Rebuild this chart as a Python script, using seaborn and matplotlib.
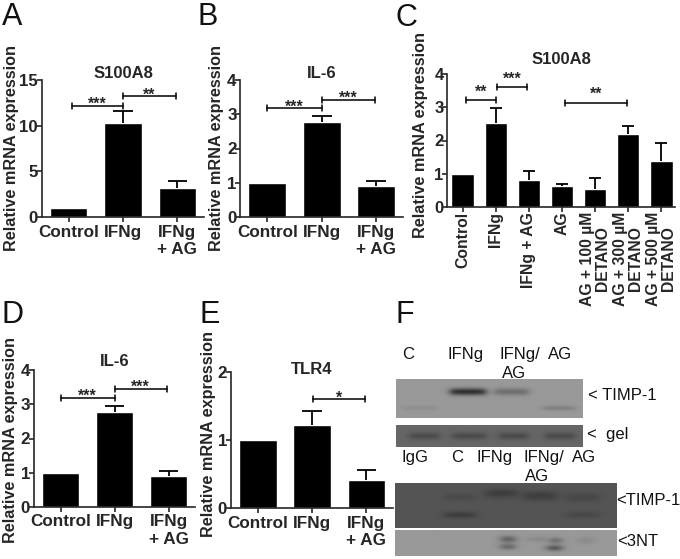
import numpy as np
import pandas as pd
import seaborn as sns
import matplotlib.pyplot as plt

W, H = 680, 559

# values
cats3 = ['Control', 'IFNg', 'IFNg\n+ AG']
a_vals = [1.0, 10.25, 3.15]
a_err = [0, 1.4, 0.75]
b_vals = [1.0, 2.77, 0.9]
b_err = [0, 0.19, 0.14]
c_cats = ['Control', 'IFNg', 'IFNg + AG', 'AG', 'AG + 100 µM\nDETANO', 'AG + 300 µM\nDETANO', 'AG + 500 µM\nDETANO']
c_vals = [1.0, 2.53, 0.8, 0.62, 0.53, 2.2, 1.37]
c_err = [0, 0.45, 0.29, 0.06, 0.35, 0.25, 0.56]
d_vals = [1.0, 2.77, 0.9]
d_err = [0, 0.19, 0.14]
e_vals = [1.0, 1.22, 0.42]
e_err = [0, 0.21, 0.14]

# significance brackets: x from, x to, height, stars
a_br = [(0.07, 1.0, 12.2, '***'), (1.0, 1.97, 13.2, '**')]
b_br = [(0.0, 1.0, 3.17, '***'), (1.0, 1.97, 3.43, '***')]
c_br = [(0.09, 1.0, 3.22, '**'), (1.03, 1.95, 3.6, '***'), (3.1, 4.97, 3.14, '**')]
d_br = [(0.0, 1.0, 3.2, '***'), (1.0, 1.97, 3.46, '***')]
e_br = [(1.01, 1.97, 1.6, '*')]

sns.set_theme(style='ticks')
plt.rcParams['font.family'] = ['Liberation Sans', 'DejaVu Sans']
plt.rcParams['font.weight'] = 'bold'
plt.rcParams['axes.linewidth'] = 1.2


def px_axes(left, right, top, bottom):
    return fig.add_axes([left / W, 1 - bottom / H, (right - left) / W, (bottom - top) / H])


def panel(box, cats, vals, err, brackets, ymax, yticks, title, title_xy, ylab_xy, xlim, star_gap, tick_size=12.2):
    ax = px_axes(*box)
    df = pd.DataFrame({'group': cats, 'value': vals})
    sns.barplot(data=df, x='group', y='value', color='black', saturation=1, width=0.69, errorbar=None, ax=ax)
    # upper error bars only, no cap on the bar itself
    for i, (v, e) in enumerate(zip(vals, err)):
        if e > 0:
            ax.vlines(i, v, v + e, color='black', lw=1.3)
            ax.hlines(v + e, i - 0.18, i + 0.18, color='black', lw=1.3)
    ax.set_xlim(*xlim)
    ax.set_ylim(0, ymax)
    ax.set_yticks(yticks)
    ax.set_xlabel('')
    ax.set_ylabel('')
    sns.despine(ax=ax)
    ax.tick_params(axis='y', labelsize=tick_size, length=3.5, width=1.2, pad=-1)
    ax.tick_params(axis='x', labelsize=12.3, length=3.5, width=1.2, pad=2)
    for x0, x1, y, stars in brackets:
        ax.plot([x0, x1], [y, y], color='black', lw=1.1)
        cap = ymax * 0.022
        ax.plot([x0, x0], [y - cap, y + cap], color='black', lw=1.1)
        ax.plot([x1, x1], [y - cap, y + cap], color='black', lw=1.1)
        ax.text((x0 + x1) / 2, y + star_gap * ymax, stars, ha='center', va='center', fontsize=11.5)
    fig.text(title_xy[0] / W, 1 - title_xy[1] / H, title, ha='center', va='center', fontsize=12)
    fig.text(ylab_xy[0] / W, 1 - ylab_xy[1] / H, 'Relative mRNA expression', rotation=90,
             ha='center', va='center', fontsize=11.7)
    return ax


def blot(box, background, bands):
    # bands: x start, x end, y, strength, thickness, all as fractions of the blot
    ax = px_axes(*box)
    rows = int(box[3] - box[2])
    cols = int(box[1] - box[0])
    yy, xx = np.mgrid[0:1:rows * 1j, 0:1:cols * 1j]
    img = np.full((rows, cols), float(background))
    for x0, x1, y, strength, thick in bands:
        across = 0.5 * (np.tanh((xx - x0) / 0.025) - np.tanh((xx - x1) / 0.025))
        img -= strength * across * np.exp(-((yy - y) / thick) ** 2)
    ax.imshow(img, cmap='gray', vmin=0, vmax=1, aspect='auto', interpolation='bilinear')
    ax.axis('off')


fig = plt.figure(figsize=(W / 100, H / 100), dpi=100)

panel((41.5, 204, 80, 217), cats3, a_vals, a_err, a_br, 15, [0, 5, 10, 15], 'S100A8', (123, 73), (11.5, 148), (-0.5, 2.49), 0.012)
panel((240, 403, 80, 217), cats3, b_vals, b_err, b_br, 4, [0, 1, 2, 3, 4], 'IL-6', (322, 73), (217, 148), (-0.5, 2.49), 0.012)
axc = panel((447, 675, 74, 207), c_cats, c_vals, c_err, c_br, 4, [0, 1, 2, 3, 4], 'S100A8', (561.7, 60), (420, 135.5), (-0.48, 6.42), 0.06, 12)
axc.tick_params(axis='x', labelsize=11.3, pad=0)
for lab in axc.get_xticklabels():
    lab.set_rotation(90)
    lab.set_ha('center')
    lab.set_va('top')
    lab.set_multialignment('center')
    lab.set_linespacing(0.95)
panel((33.5, 195, 370.3, 506.7), cats3, d_vals, d_err, d_br, 4, [0, 1, 2, 3, 4], 'IL-6', (114.3, 362), (11, 440), (-0.5, 2.49), 0.012)
panel((230.7, 393, 372.3, 508), cats3, e_vals, e_err, e_br, 2, [0, 1, 2], 'TLR4', (312, 370), (208, 434), (-0.5, 2.49), 0.012)

# panel letters
for letter, x, y in [('A', 2, 25), ('B', 197, 25), ('C', 395, 26), ('D', 2, 322.7), ('E', 200, 322.7), ('F', 395, 322.7)]:
    fig.text(x / W, 1 - y / H, letter, fontsize=22, fontweight='normal', ha='left', va='baseline', color='#111111')

# western blots
blot((396, 583, 379.3, 418.3), 0.60, [(0.29, 0.48, 0.34, 0.42, 0.09), (0.53, 0.71, 0.34, 0.17, 0.09),
                                     (0.79, 0.96, 0.76, 0.1, 0.06), (0.03, 0.22, 0.76, 0.04, 0.06)])
blot((396, 583, 425, 447.3), 0.40, [(0.07, 0.23, 0.52, 0.11, 0.16), (0.30, 0.48, 0.52, 0.11, 0.16),
                                    (0.55, 0.71, 0.52, 0.11, 0.16), (0.80, 0.96, 0.52, 0.11, 0.16)])
blot((394.7, 615.7, 482.7, 528.3), 0.33, [(0.22, 0.36, 0.72, 0.09, 0.07), (0.22, 0.36, 0.33, 0.04, 0.08),
                                         (0.41, 0.55, 0.24, 0.09, 0.1), (0.58, 0.73, 0.30, 0.09, 0.1),
                                         (0.77, 0.92, 0.33, 0.05, 0.1), (0.77, 0.92, 0.72, 0.05, 0.07)])
blot((394.7, 615.7, 530, 556), 0.60, [(0.48, 0.54, 0.35, 0.25, 0.14), (0.48, 0.54, 0.65, 0.22, 0.12),
                                      (0.70, 0.75, 0.40, 0.2, 0.12), (0.69, 0.75, 0.70, 0.3, 0.12),
                                      (0.60, 0.68, 0.35, 0.06, 0.12), (0.83, 0.90, 0.40, 0.06, 0.16)])

# blot labels, regular weight
blot_text = [('C', 408, 359.3), ('IFNg', 465.5, 359.3), ('IFNg/', 519.5, 359.3), ('AG', 560, 359.3), ('AG', 514.5, 378.3),
             ('< TIMP-1', 622, 400), ('<  gel', 608, 439), ('IgG', 414.5, 461.7), ('C', 457, 461.7), ('IFNg', 495, 461.7),
             ('IFNg/', 543.5, 461.7), ('AG', 584, 461.7), ('AG', 537.5, 481.3), ('<TIMP-1', 648, 505), ('<3NT', 638, 546)]
for txt, x, y in blot_text:
    fig.text(x / W, 1 - y / H, txt, fontsize=12, fontweight='normal', ha='center', va='baseline', color='#111111')

fig.savefig('out.png', dpi=100)
